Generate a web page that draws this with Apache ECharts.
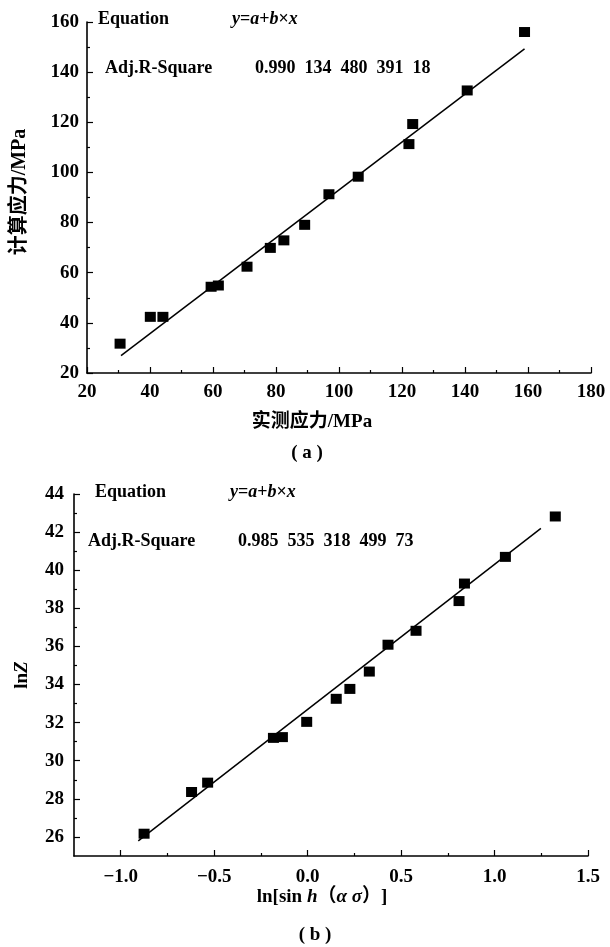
<!DOCTYPE html>
<html>
<head>
<meta charset="utf-8">
<script src="https://cdn.jsdelivr.net/npm/echarts@6/dist/echarts.min.js"></script>
<style>
  html, body { margin: 0; padding: 0; background: #fff; }
  #grafico { width: 610px; height: 947px; }
</style>
</head>
<body>
<div id="grafico"></div>
<script>
// (a) 实测应力 / 计算应力 (MPa)
var medidoA = [30.5, 40.1, 44.1, 59.4, 61.7, 70.8, 78.2, 82.5, 89.1, 96.8, 106.1, 122.2, 123.4, 140.7, 158.9];
var calculadoA = [31.7, 42.4, 42.4, 54.4, 54.9, 62.4, 69.9, 72.9, 79.1, 91.3, 98.3, 111.3, 119.3, 132.7, 156.0];
var ajusteAX = [30.8, 158.9];
var ajusteAY = [26.9, 149.3];

// (b) ln[sinh(ασ)] / lnZ
var lnSinhB = [-0.875, -0.621, -0.535, -0.183, -0.135, -0.005, 0.153, 0.226, 0.330, 0.430, 0.580, 0.810, 0.839, 1.058, 1.325];
var lnZB = [26.17, 28.36, 28.85, 31.20, 31.24, 32.04, 33.25, 33.77, 34.68, 36.09, 36.82, 38.38, 39.30, 40.70, 42.82];
var ajusteBX = [-0.906, 1.248];
var ajusteBY = [25.79, 42.20];

// ticks del gráfico (b)
var ticksXB = [-1.0, -0.5, 0.0, 0.5, 1.0, 1.5];
var ticksXBMenor = [-0.75, -0.25, 0.25, 0.75, 1.25];
var ticksYB = [26, 28, 30, 32, 34, 36, 38, 40, 42, 44];
var ticksYBMenor = [27, 29, 31, 33, 35, 37, 39, 41, 43];

var fuente = '"Liberation Serif", "Noto Sans CJK SC", serif';
var negro = '#000';

function pares(xs, ys) {
    return xs.map(function (x, i) { return [x, ys[i]]; });
}

var lineaEje = { onZero: false, lineStyle: { color: negro, width: 1.6 } };
var etiqueta = { color: negro, fontFamily: fuente, fontSize: 19, fontWeight: 'bold' };

function ejeValor(extra) {
    var base = {
        type: 'value',
        axisLine: lineaEje,
        axisTick: { inside: true, length: 6, lineStyle: { color: negro, width: 1.2 } },
        minorTick: { show: true, splitNumber: 2, length: 3, lineStyle: { color: negro, width: 1.2 } },
        splitLine: { show: false },
        axisLabel: Object.assign({}, etiqueta)
    };
    return Object.assign(base, extra);
}

// eje auxiliar solo para los ticks menores del gráfico (b)
function ejeMenor(grid, min, max, pos, valores) {
    return {
        type: 'value', gridIndex: grid, min: min, max: max, position: pos,
        axisLine: { show: false, onZero: false },
        axisLabel: { show: false },
        splitLine: { show: false },
        axisTick: { show: true, inside: true, length: 3, customValues: valores, lineStyle: { color: negro, width: 1.2 } }
    };
}

var chart = echarts.init(document.getElementById('grafico'), null, { renderer: 'canvas' });

function texto(x, y, t, size, extra) {
    return Object.assign({
        type: 'text',
        x: x,
        y: y,
        style: {
            text: t,
            fill: negro,
            font: 'bold ' + size + 'px ' + fuente,
            verticalAlign: 'middle'
        }
    }, extra || {});
}

function italica(size) {
    return { i: { fontStyle: 'italic', fontWeight: 'bold', fontFamily: fuente, fontSize: size, fill: negro } };
}

var formula = '{i|y}={i|a}+{i|b}\u00d7{i|x}';

var option = {
    backgroundColor: '#fff',
    animation: false,
    grid: [
        { left: 87, right: 19, top: 22, bottom: 574 },
        { left: 74, right: 22, top: 494, bottom: 91 }
    ],
    xAxis: [
        ejeValor({ gridIndex: 0, min: 20, max: 180, interval: 20, axisLabel: Object.assign({ margin: 10 }, etiqueta) }),
        ejeValor({
            gridIndex: 1, min: -1.25, max: 1.5, interval: 0.25, position: 'bottom',
            minorTick: { show: false },
            axisTick: { inside: true, length: 6, customValues: ticksXB, lineStyle: { color: negro, width: 1.2 } },
            axisLabel: Object.assign({
                margin: 12,
                customValues: ticksXB,
                formatter: function (v) { return v.toFixed(1).replace('-', '\u2212'); }
            }, etiqueta)
        }),
        ejeMenor(1, -1.25, 1.5, 'bottom', ticksXBMenor)
    ],
    yAxis: [
        ejeValor({ gridIndex: 0, min: 20, max: 160, interval: 20, axisLabel: Object.assign({ margin: 8 }, etiqueta) }),
        ejeValor({
            gridIndex: 1, min: 25, max: 44, interval: 1, position: 'left',
            minorTick: { show: false },
            axisTick: { inside: true, length: 6, customValues: ticksYB, lineStyle: { color: negro, width: 1.2 } },
            axisLabel: Object.assign({ margin: 10, customValues: ticksYB }, etiqueta)
        }),
        ejeMenor(1, 25, 44, 'left', ticksYBMenor)
    ],
    series: [
        {
            type: 'line', xAxisIndex: 0, yAxisIndex: 0,
            data: pares(ajusteAX, ajusteAY),
            symbol: 'none', lineStyle: { color: negro, width: 1.5 }
        },
        {
            type: 'scatter', xAxisIndex: 0, yAxisIndex: 0,
            data: pares(medidoA, calculadoA),
            symbol: 'rect', symbolSize: [11, 10], itemStyle: { color: negro, opacity: 1 }
        },
        {
            type: 'line', xAxisIndex: 1, yAxisIndex: 1,
            data: pares(ajusteBX, ajusteBY),
            symbol: 'none', lineStyle: { color: negro, width: 1.5 }
        },
        {
            type: 'scatter', xAxisIndex: 1, yAxisIndex: 1,
            data: pares(lnSinhB, lnZB),
            symbol: 'rect', symbolSize: [11, 10], itemStyle: { color: negro, opacity: 1 }
        }
    ],
    graphic: [
        // anotaciones (a)
        texto(98, 19, 'Equation', 18),
        texto(232, 19, '', 18, { style: { text: formula, fill: negro, font: 'bold 18px ' + fuente, verticalAlign: 'middle', rich: italica(18) } }),
        texto(105, 68, 'Adj.R-Square', 18),
        texto(255, 68, '0.990\u2002134\u2002480\u2002391\u200218', 18),
        // anotaciones (b)
        texto(95, 492, 'Equation', 18),
        texto(230, 492, '', 18, { style: { text: formula, fill: negro, font: 'bold 18px ' + fuente, verticalAlign: 'middle', rich: italica(18) } }),
        texto(88, 541, 'Adj.R-Square', 18),
        texto(238, 541, '0.985\u2002535\u2002318\u2002499\u200273', 18),
        // títulos de ejes (a)
        texto(312, 422, '', 19, { style: { text: '实测应力/MPa', fill: negro, font: 'bold 19px ' + fuente, align: 'center', verticalAlign: 'middle' } }),
        texto(20, 192, '', 20, { rotation: Math.PI / 2, style: { text: '计算应力/MPa', fill: negro, font: 'bold 20px ' + fuente, align: 'center', verticalAlign: 'middle' } }),
        texto(307, 453, '', 19, { style: { text: '( a )', fill: negro, font: 'bold 19px ' + fuente, align: 'center', verticalAlign: 'middle' } }),
        // títulos de ejes (b)
        texto(322, 897, '', 19, {
            style: {
                text: 'ln[sin {i|h}（{i|α σ}）]', fill: negro, font: 'bold 19px ' + fuente,
                align: 'center', verticalAlign: 'middle', rich: italica(19)
            }
        }),
        texto(22, 675, '', 19, {
            rotation: Math.PI / 2,
            style: {
                text: 'ln{i|Z}', fill: negro, font: 'bold 19px ' + fuente,
                align: 'center', verticalAlign: 'middle', rich: italica(19)
            }
        }),
        texto(315, 935, '', 19, { style: { text: '( b )', fill: negro, font: 'bold 19px ' + fuente, align: 'center', verticalAlign: 'middle' } })
    ]
};

chart.setOption(option);
</script>
</body>
</html>
